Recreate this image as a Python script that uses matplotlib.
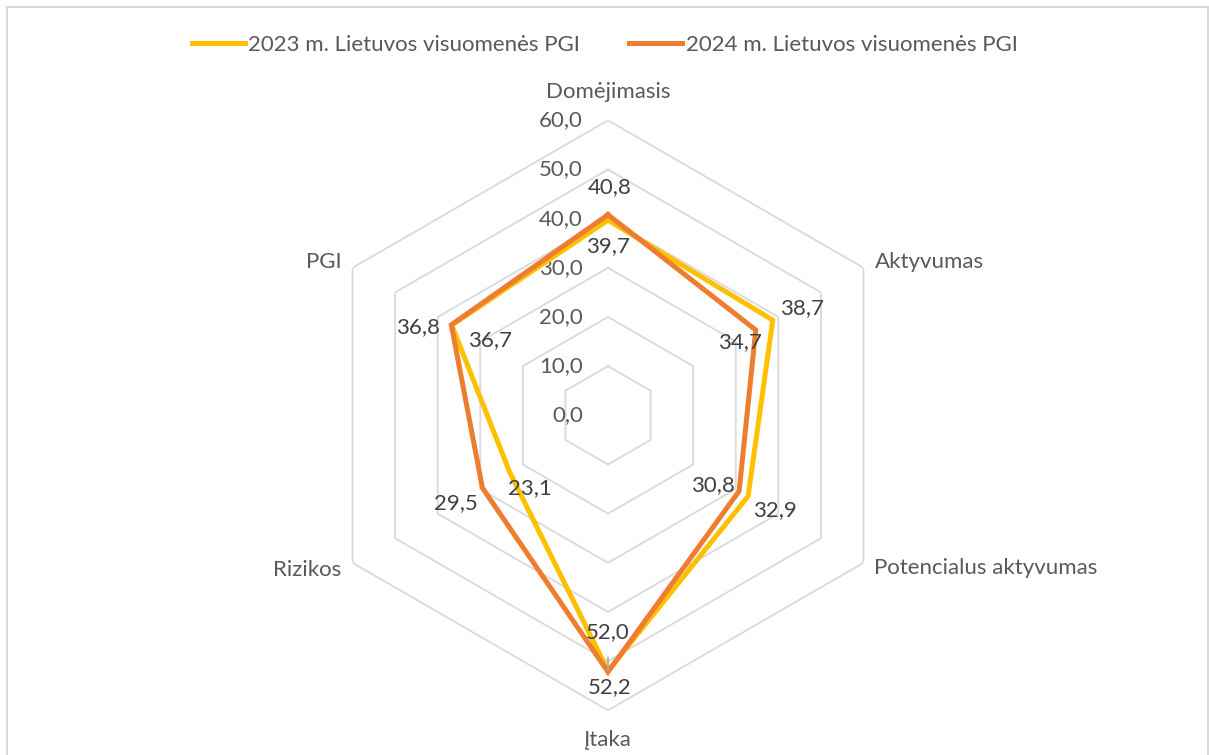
import numpy as np
import matplotlib
matplotlib.use('Agg')
import matplotlib.pyplot as plt

plt.rcParams['font.family'] = ['Lato', 'DejaVu Sans']

categories = ['Domėjimasis', 'Aktyvumas', 'Potencialus aktyvumas', 'Įtaka', 'Rizikos', 'PGI']
values_2023 = [39.7, 38.7, 32.9, 52.0, 23.1, 36.7]
values_2024 = [40.8, 34.7, 30.8, 52.2, 29.5, 36.8]
series_names = ['2023 m. Lietuvos visuomenės PGI', '2024 m. Lietuvos visuomenės PGI']
ticks = [0, 10, 20, 30, 40, 50, 60]

yellow = '#FFC000'
orange = '#ED7D31'
grid_c = '#D9D9D9'
txt = '#595959'
lab = '#404040'
fs = 16

fig = plt.figure(figsize=(12.09, 7.55), dpi=100)
# outer chart frame
fig.patches.append(plt.Rectangle((7 / 1209, -0.01), 1201 / 1209, 1 - 7 / 755 + 0.01,
                                 transform=fig.transFigure, fill=False,
                                 edgecolor=grid_c, linewidth=1.5))

ax = fig.add_axes([(608 - 295) / 1209, (755 - 415.3 - 295) / 755, 590 / 1209, 590 / 755],
                  projection='polar')
ax.set_theta_offset(np.pi / 2)
ax.set_theta_direction(-1)
ax.set_ylim(0, 60)
ax.grid(False)
ax.spines['polar'].set_visible(False)
ax.set_xticks([])
ax.set_yticks([])
ax.patch.set_alpha(0)

n = len(categories)
angles = np.linspace(0, 2 * np.pi, n, endpoint=False)
closed = np.append(angles, angles[0])

for v in ticks[1:]:
    ax.plot(closed, [v] * (n + 1), color=grid_c, lw=1.3, zorder=1)

for v in ticks:
    ax.annotate(f'{v:.1f}'.replace('.', ','), xy=(0, v), xytext=(-25, 0),
                textcoords='offset pixels', ha='right', va='center',
                fontsize=fs, color=txt)

l1, = ax.plot(closed, values_2023 + values_2023[:1], color=yellow, lw=3.6, zorder=3,
              solid_joinstyle='miter')
l2, = ax.plot(closed, values_2024 + values_2024[:1], color=orange, lw=3.6, zorder=4,
              solid_joinstyle='miter')

# category labels
cat_off = [(0, 28, 'center'), (11, 6, 'left'), (11, -5, 'left'),
           (0, -30, 'center'), (-11, -7, 'right'), (-11, 6, 'right')]
for a, c, (dx, dy, ha) in zip(angles, categories, cat_off):
    ax.annotate(c, xy=(a, 60), xytext=(dx, dy), textcoords='offset pixels',
                ha=ha, va='center', fontsize=fs, color=txt)

# data labels
off_2023 = [(0, -26), (29, 12), (27, -14), (0, 39), (20, -16), (38, -15)]
off_2024 = [(2, 28), (-16, -12), (-26, 6), (2, -15), (-27, -15), (-33, -2)]
for a, v, (dx, dy) in zip(angles, values_2023, off_2023):
    kw = {}
    if v == values_2023[3]:
        kw = dict(arrowprops=dict(arrowstyle='-', color='#A6A6A6', lw=1.2,
                                  shrinkA=9, shrinkB=0))
    ax.annotate(f'{v:.1f}'.replace('.', ','), xy=(a, v), xytext=(dx, dy),
                textcoords='offset pixels', ha='center', va='center',
                fontsize=fs, color=lab, zorder=5, **kw)
for a, v, (dx, dy) in zip(angles, values_2024, off_2024):
    ax.annotate(f'{v:.1f}'.replace('.', ','), xy=(a, v), xytext=(dx, dy),
                textcoords='offset pixels', ha='center', va='center',
                fontsize=fs, color=lab, zorder=5)

fig.legend([l1, l2], series_names, loc='center', bbox_to_anchor=(0.5, 1 - 45 / 755),
           ncol=2, frameon=False, fontsize=fs, labelcolor=txt, handlelength=2.4,
           handletextpad=0.15, columnspacing=2.2)

fig.savefig('out.png', dpi=100)
